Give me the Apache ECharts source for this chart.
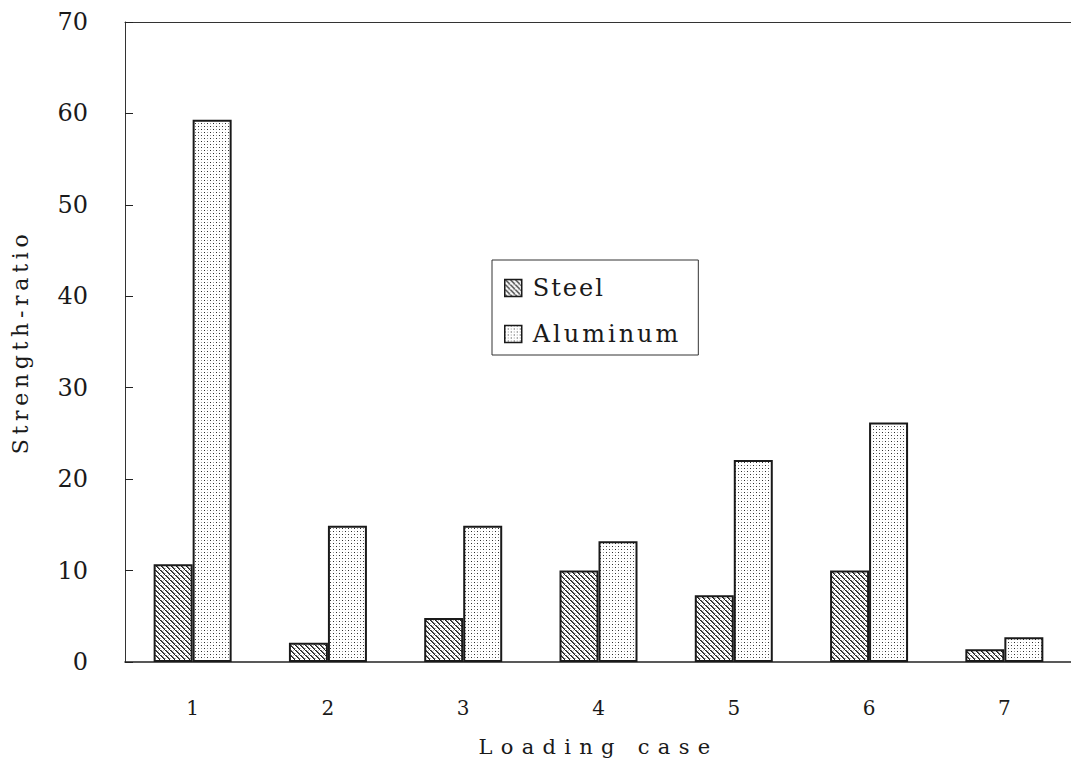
<!DOCTYPE html>
<html>
<head>
<meta charset="utf-8">
<script src="https://cdn.jsdelivr.net/npm/echarts@6/dist/echarts.min.js"></script>
<style>
  html, body { margin: 0; padding: 0; background: #fff; }
  #chart { width: 1071px; height: 767px; }
</style>
</head>
<body>
<div id="chart"></div>
<script>
// Loading cases and strength ratios for the two materials
const cases = ['1', '2', '3', '4', '5', '6', '7'];
const steel = [10.7, 2.1, 4.8, 10.0, 7.3, 10.0, 1.4];
const aluminum = [59.3, 14.9, 14.9, 13.2, 22.1, 26.2, 2.7];
const seriesNames = ['Steel', 'Aluminum'];
const yMin = 0, yMax = 70, yStep = 10;

const FONT = "'DejaVu Serif', 'Liberation Serif', serif";
const INK = '#1a1a1a';

// Diagonal hatching tile for steel bars
function hatchTile() {
  const c = document.createElement('canvas');
  c.width = 5; c.height = 5;
  const g = c.getContext('2d');
  g.fillStyle = '#fff'; g.fillRect(0, 0, 5, 5);
  g.fillStyle = '#bbb';
  g.fillRect(3, 0, 1, 1); g.fillRect(0, 3, 1, 1);
  g.fillStyle = '#1e1e1e';
  for (let i = 0; i < 5; i++) g.fillRect(i, i, 1, 1);
  g.fillStyle = '#666';
  for (let i = 0; i < 4; i++) g.fillRect(i + 1, i, 1, 1);
  return c;
}

// Fine dot tile for aluminum bars
function dotTile() {
  const c = document.createElement('canvas');
  c.width = 6; c.height = 6;
  const g = c.getContext('2d');
  g.fillStyle = '#fff'; g.fillRect(0, 0, 6, 6);
  g.fillStyle = '#2a2a2a';
  g.fillRect(0, 0, 1, 1); g.fillRect(3, 3, 1, 1);
  g.fillStyle = '#9a9a9a';
  g.fillRect(3, 0, 1, 1); g.fillRect(0, 3, 1, 1);
  return c;
}

const steelFill = { image: hatchTile(), repeat: 'repeat' };
const aluFill = { image: dotTile(), repeat: 'repeat' };

const chart = echarts.init(document.getElementById('chart'), null, { renderer: 'svg' });

chart.setOption({
  animation: false,
  backgroundColor: '#fff',
  textStyle: { fontFamily: FONT, color: INK },
  // plot area reaches the right edge of the page
  grid: { left: 125, width: 947, top: 22, bottom: 105, outerBoundsMode: 'none', containLabel: false },
  legend: {
    orient: 'vertical',
    left: 492, top: 260,
    data: seriesNames,
    icon: 'rect',
    itemWidth: 17, itemHeight: 17,
    itemGap: 22,
    padding: [16, 41, 9, 12],
    backgroundColor: '#fff',
    borderColor: '#333', borderWidth: 1,
    textStyle: { fontFamily: FONT, fontSize: 24, color: INK, padding: [0, 0, 0, 6] },
    itemStyle: { borderColor: INK, borderWidth: 1.5 }
  },
  xAxis: [
    {
      type: 'category',
      data: cases,
      name: 'Loading case',
      nameLocation: 'middle',
      nameGap: 74,
      nameTextStyle: { fontFamily: FONT, fontSize: 21, color: INK },
      axisLine: { lineStyle: { color: '#222', width: 1.5 } },
      axisTick: { inside: true, length: 8, lineStyle: { color: '#222', width: 1 } },
      axisLabel: { fontFamily: FONT, fontSize: 20, color: INK, margin: 36 },
      splitLine: { show: false }
    },
    {
      // plain frame line along the top edge
      type: 'category',
      data: cases,
      position: 'top',
      axisLine: { show: true, lineStyle: { color: '#333', width: 1 } },
      axisTick: { show: false },
      axisLabel: { show: false },
      splitLine: { show: false }
    }
  ],
  yAxis: {
    type: 'value',
    min: yMin, max: yMax, interval: yStep,
    name: 'Strength-ratio',
    nameLocation: 'middle',
    nameGap: 94,
    nameTextStyle: { fontFamily: FONT, fontSize: 22, color: INK },
    axisLine: { show: true, lineStyle: { color: '#333', width: 1 } },
    axisTick: { show: true, inside: true, length: 8, lineStyle: { color: '#222', width: 1 } },
    axisLabel: { fontFamily: FONT, fontSize: 24, color: INK, margin: 37 },
    splitLine: { show: false }
  },
  series: [
    {
      name: seriesNames[0], type: 'bar', data: steel,
      barWidth: 39, barGap: '0%',
      itemStyle: { color: steelFill, borderColor: INK, borderWidth: 2 }
    },
    {
      name: seriesNames[1], type: 'bar', data: aluminum,
      barWidth: 39, barGap: '0%',
      itemStyle: { color: aluFill, borderColor: INK, borderWidth: 2 }
    }
  ]
});

// Wide tracking for the titles and legend entries
const tracking = { 'Loading case': '8.3px', 'Strength-ratio': '4.7px', 'Steel': '2px', 'Aluminum': '3px' };
function applyTracking() {
  document.querySelectorAll('#chart text').forEach(t => {
    const s = tracking[t.textContent.trim()];
    if (s) t.setAttribute('letter-spacing', s);
  });
}
chart.on('finished', applyTracking);
applyTracking();
setTimeout(applyTracking, 50);
</script>
</body>
</html>
